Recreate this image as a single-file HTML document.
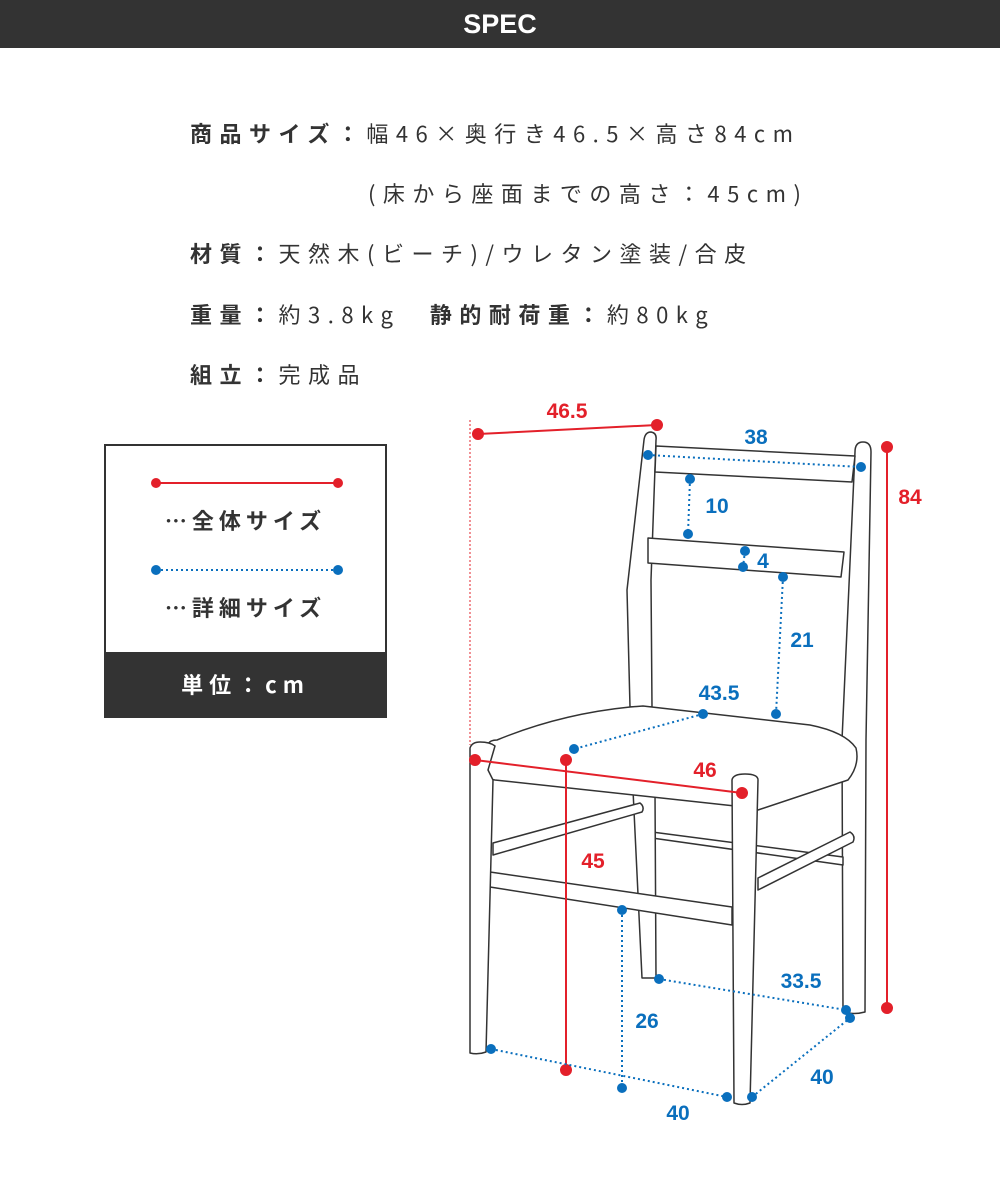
<!DOCTYPE html>
<html><head><meta charset="utf-8"><style>
body{margin:0;background:#fff;width:1000px;height:1177px;position:relative;overflow:hidden;font-family:"Noto Sans CJK JP","Liberation Sans",sans-serif;color:#333}
.hd{position:absolute;left:0;top:0;width:1000px;height:48px;background:#333;color:#fff;font-weight:bold;font-size:27px;text-align:center;line-height:48px;font-family:"Liberation Sans","Noto Sans CJK JP",sans-serif}
.l{position:absolute;left:190px;font-size:22px;letter-spacing:7.5px;white-space:nowrap;line-height:30px}
.l b{font-weight:bold}
.box{position:absolute;left:104px;top:444px;width:279px;height:270px;border:2px solid #333;background:#fff}
.band{position:absolute;left:0;bottom:0;width:279px;height:64px;background:#333;color:#fff;font-weight:bold;font-size:22px;letter-spacing:6px;text-align:center;line-height:64px}
.lg{position:absolute;left:0;width:279px;text-align:center;font-weight:bold;font-size:22px;letter-spacing:5px}
svg{position:absolute;left:0;top:0}
</style></head><body>
<div class="hd">SPEC</div>
<div class="l" style="top:118px"><b>商品サイズ：</b>幅46×奥行き46.5×高さ84cm</div>
<div class="l" style="top:178px;left:368px">(床から座面までの高さ：45cm)</div>
<div class="l" style="top:238px"><b>材質：</b>天然木(ビーチ)/ウレタン塗装/合皮</div>
<div class="l" style="top:299px"><b>重量：</b>約3.8kg　<b>静的耐荷重：</b>約80kg</div>
<div class="l" style="top:359px"><b>組立：</b>完成品</div>
<div class="box">
<svg width="279" height="210"><line x1="50" y1="37" x2="232" y2="37" stroke="#e3202a" stroke-width="2"/><circle cx="50" cy="37" r="5" fill="#e3202a"/><circle cx="232" cy="37" r="5" fill="#e3202a"/>
<line x1="50" y1="124" x2="232" y2="124" stroke="#0a6fbd" stroke-width="2" stroke-dasharray="2 3"/><circle cx="50" cy="124" r="5" fill="#0a6fbd"/><circle cx="232" cy="124" r="5" fill="#0a6fbd"/></svg>
<div class="lg" style="top:58px">…全体サイズ</div>
<div class="lg" style="top:145px">…詳細サイズ</div>
<div class="band">単位：cm</div>
</div>
<svg width="1000" height="1177" viewBox="0 0 1000 1177">
<g fill="#fff" stroke="#333" stroke-width="1.5" stroke-linejoin="round">
<!-- back right post -->
<path d="M855,452 Q855,442 863,442 Q871,442 871,452 L866,740 L865,1012 Q854,1015 843,1012 L842,740 Z"/>
<!-- back left post -->
<path d="M644,440 Q645,432 651,432 Q657,433 656,440 L651,580 L652,707 L630,707 L627,590 Z"/>
<!-- rails -->
<path d="M656,446 L855,456 L852,482 L655,472 Z"/>
<path d="M648,538 L844,552 L841,577 L648,563 Z"/>
<!-- back stretcher -->
<path d="M652,832 L843,857 L843,865 L652,838 Q649,835 652,832 Z"/>
<!-- back left leg -->
<path d="M633,790 L655,792 L656,978 L642,978 Z"/>
<!-- right side rails -->
<path d="M758,878 L850,832 Q856,836 853,842 L758,890 Z"/>
<!-- seat -->
<path d="M630,707 L643,706 L810,725 Q845,732 856,748 Q860,765 848,780 L758,810 L735,806 L495,780 Q488,779 488,772 L488,744 Q490,740 497,740 Q560,714 630,707 Z"/>
<!-- left side rails -->
<path d="M493,843 L640,803 Q645,807 642,812 L493,855 Z"/>
<!-- front stretcher -->
<path d="M490,872 L732,907 L732,925 L490,887 Q485,880 490,872 Z"/>
<!-- front left leg -->
<path d="M470,748 Q472,742 480,742 Q490,742 495,746 L488,770 L493,780 L486,1052 Q478,1055 470,1053 Z"/>
<!-- front right leg -->
<path d="M732,780 Q733,774 745,774 Q758,774 758,780 L750,1103 Q742,1106 734,1103 Z"/>
</g>
<g stroke="#e3202a" stroke-width="2" fill="#e3202a">
<line x1="470" y1="420" x2="470" y2="745" stroke-width="1" stroke-dasharray="2 2"/>
<line x1="478" y1="434" x2="657" y2="425"/><circle cx="478" cy="434" r="5"/><circle cx="657" cy="425" r="5"/>
<line x1="887" y1="447" x2="887" y2="1008"/><circle cx="887" cy="447" r="5"/><circle cx="887" cy="1008" r="5"/>
<line x1="475" y1="760" x2="742" y2="793"/><circle cx="475" cy="760" r="5"/><circle cx="742" cy="793" r="5"/>
<line x1="566" y1="760" x2="566" y2="1070"/><circle cx="566" cy="760" r="5"/><circle cx="566" cy="1070" r="5"/>
</g>
<g stroke="#0a6fbd" stroke-width="2" fill="#0a6fbd" stroke-dasharray="2 3">
<line x1="648" y1="455" x2="861" y2="467"/><line x1="690" y1="479" x2="688" y2="534"/><line x1="745" y1="551" x2="743" y2="567"/>
<line x1="783" y1="577" x2="776" y2="714"/><line x1="703" y1="714" x2="574" y2="749"/><line x1="622" y1="910" x2="622" y2="1088"/>
<line x1="491" y1="1049" x2="727" y2="1097"/><line x1="752" y1="1097" x2="850" y2="1018"/><line x1="659" y1="979" x2="846" y2="1010"/>
</g>
<g fill="#0a6fbd">
<circle cx="648" cy="455" r="5"/><circle cx="861" cy="467" r="5"/><circle cx="690" cy="479" r="5"/><circle cx="688" cy="534" r="5"/>
<circle cx="745" cy="551" r="5"/><circle cx="743" cy="567" r="5"/><circle cx="783" cy="577" r="5"/><circle cx="776" cy="714" r="5"/>
<circle cx="703" cy="714" r="5"/><circle cx="574" cy="749" r="5"/><circle cx="622" cy="910" r="5"/><circle cx="622" cy="1088" r="5"/>
<circle cx="491" cy="1049" r="5"/><circle cx="727" cy="1097" r="5"/><circle cx="752" cy="1097" r="5"/><circle cx="850" cy="1018" r="5"/>
<circle cx="659" cy="979" r="5"/><circle cx="846" cy="1010" r="5"/>
</g>
<g font-family="Liberation Sans, sans-serif" font-weight="bold" font-size="21" text-anchor="middle">
<g fill="#e3202a"><text x="567" y="418">46.5</text><text x="910" y="504">84</text><text x="705" y="777">46</text><text x="593" y="868">45</text></g>
<g fill="#0a6fbd"><text x="756" y="444">38</text><text x="717" y="513">10</text><text x="763" y="568">4</text><text x="802" y="647">21</text><text x="719" y="700">43.5</text><text x="647" y="1028">26</text><text x="801" y="988">33.5</text><text x="822" y="1084">40</text><text x="678" y="1120">40</text></g>
</g>
</svg>
</body></html>
